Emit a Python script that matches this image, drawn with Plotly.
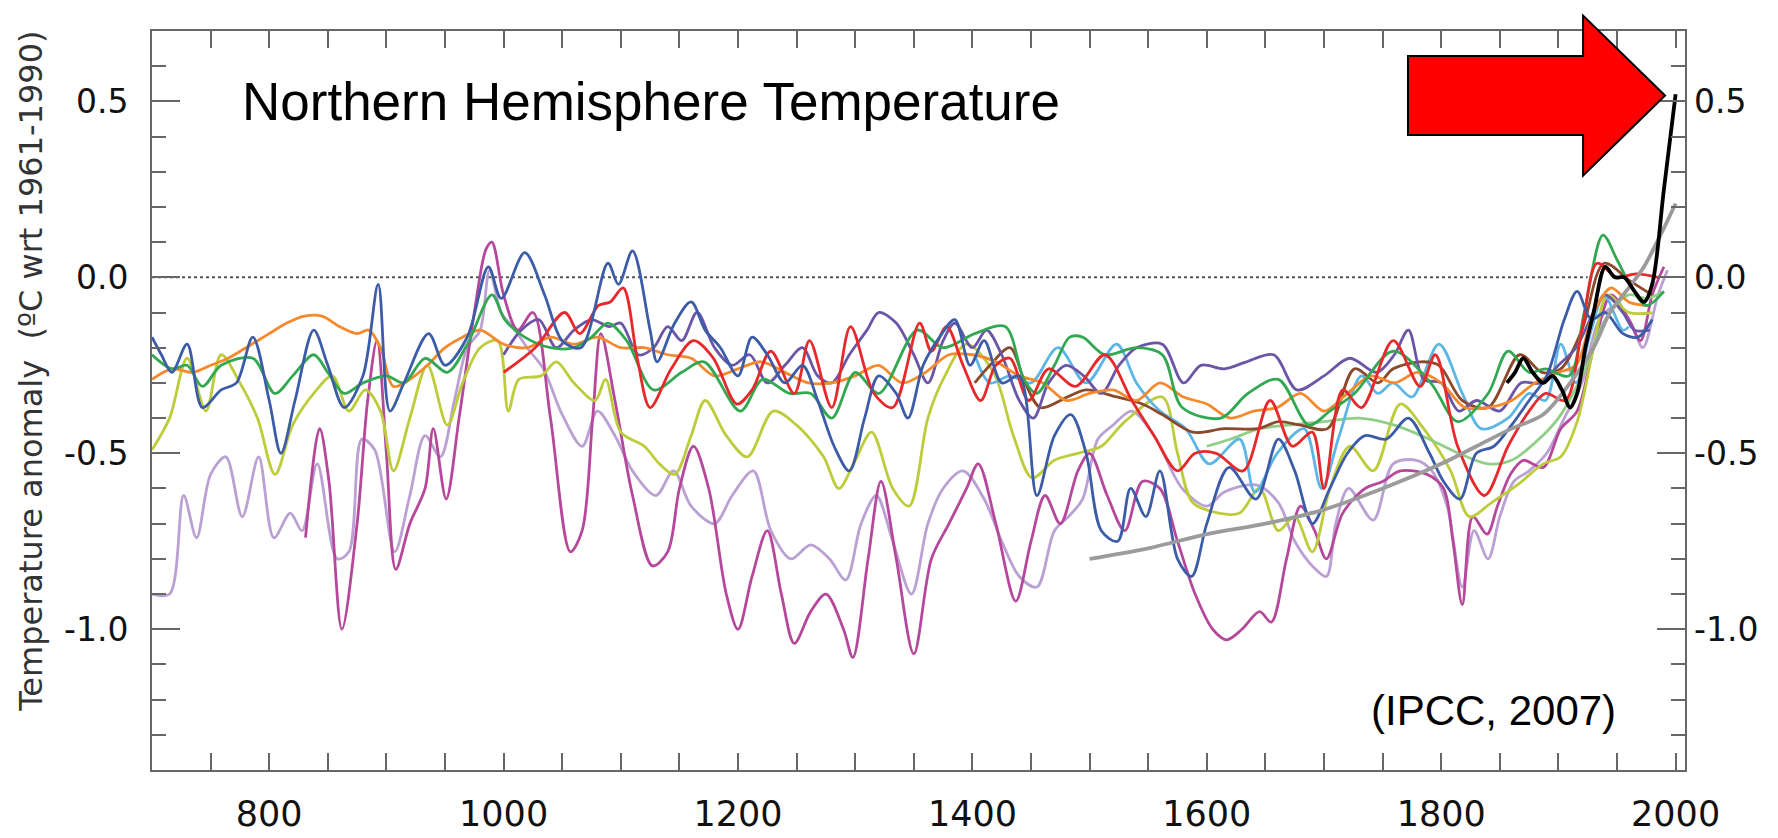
import plotly.graph_objects as go

# ---------------- data ----------------
tick_years = [800, 1000, 1200, 1400, 1600, 1800, 2000]
tick_year_labels = ["800", "1000", "1200", "1400", "1600", "1800", "2000"]
tick_temps = [-1.0, -0.5, 0.0, 0.5]
tick_temp_labels = ["-1.0", "-0.5", "0.0", "0.5"]

lilac_years = [700, 715, 727, 738, 750, 763, 777, 791, 804, 818, 828, 841, 858, 868, 879, 890, 907, 920, 933, 946, 958, 969, 980, 988, 998, 1010, 1020, 1034, 1050, 1067, 1080, 1095, 1110, 1130, 1145, 1160, 1180, 1195, 1213, 1228, 1245, 1262, 1278, 1292, 1305, 1318, 1332, 1348, 1362, 1375, 1392, 1410, 1425, 1440, 1455, 1470, 1482, 1494, 1507, 1520, 1536, 1555, 1579, 1600, 1615, 1642, 1661, 1675, 1690, 1702, 1710, 1721, 1742, 1759, 1779, 1792, 1805, 1818, 1828, 1840, 1850, 1862, 1875, 1890, 1905, 1920, 1935, 1950, 1962, 1972, 1985, 1993]
lilac_temps = [-0.9, -0.9, -0.62, -0.74, -0.56, -0.51, -0.68, -0.51, -0.74, -0.67, -0.72, -0.53, -0.8, -0.78, -0.46, -0.49, -0.78, -0.62, -0.45, -0.51, -0.35, -0.2, -0.15, 0.02, -0.1, -0.15, -0.2, -0.26, -0.39, -0.48, -0.38, -0.45, -0.55, -0.62, -0.55, -0.65, -0.7, -0.62, -0.55, -0.72, -0.8, -0.76, -0.8, -0.86, -0.7, -0.62, -0.75, -0.9, -0.7, -0.6, -0.55, -0.63, -0.75, -0.85, -0.88, -0.72, -0.68, -0.63, -0.46, -0.42, -0.38, -0.45, -0.6, -0.65, -0.61, -0.59, -0.64, -0.75, -0.82, -0.85, -0.7, -0.6, -0.69, -0.53, -0.52, -0.55, -0.65, -0.88, -0.72, -0.8, -0.68, -0.58, -0.55, -0.5, -0.4, -0.3, -0.12, -0.08, -0.13, -0.2, -0.05, 0.02]

magenta_years = [831, 843, 851, 862, 875, 884, 892, 900, 908, 920, 933, 940, 951, 962, 975, 985, 990, 1000, 1012, 1025, 1040, 1057, 1067, 1076, 1083, 1095, 1110, 1127, 1140, 1150, 1162, 1175, 1190, 1200, 1212, 1225, 1237, 1248, 1262, 1275, 1290, 1298, 1311, 1322, 1335, 1350, 1365, 1380, 1395, 1405, 1420, 1437, 1450, 1462, 1475, 1490, 1500, 1515, 1530, 1545, 1560, 1575, 1590, 1605, 1617, 1630, 1645, 1655, 1668, 1680, 1692, 1702, 1716, 1735, 1750, 1765, 1788, 1802, 1810, 1818, 1827, 1839, 1848, 1859, 1870, 1887, 1902, 1916, 1930, 1945, 1960, 1970, 1980, 1990]
magenta_temps = [-0.74, -0.43, -0.58, -1.0, -0.7, -0.35, -0.18, -0.5, -0.83, -0.7, -0.6, -0.43, -0.63, -0.4, -0.1, 0.08, 0.1, -0.05, -0.15, -0.1, -0.4, -0.78, -0.72, -0.4, -0.16, -0.35, -0.62, -0.82, -0.78, -0.6, -0.48, -0.6, -0.9, -1.0, -0.85, -0.72, -0.9, -1.04, -0.95, -0.9, -1.0, -1.08, -0.8, -0.58, -0.8, -1.07, -0.8, -0.7, -0.6, -0.53, -0.7, -0.92, -0.75, -0.62, -0.7, -0.55, -0.5, -0.62, -0.72, -0.58, -0.6, -0.75, -0.9, -1.0, -1.03, -1.0, -0.95, -0.98, -0.8, -0.65, -0.72, -0.8, -0.67, -0.6, -0.58, -0.55, -0.56, -0.6, -0.75, -0.93, -0.68, -0.73, -0.65, -0.56, -0.52, -0.54, -0.43, -0.38, -0.2, -0.05, -0.12, -0.18, -0.05, 0.03]

olive_years = [700, 715, 730, 746, 759, 775, 790, 805, 820, 838, 854, 868, 882, 895, 906, 920, 935, 952, 965, 980, 995, 1004, 1013, 1032, 1045, 1060, 1078, 1087, 1100, 1120, 1133, 1146, 1160, 1172, 1190, 1208, 1230, 1250, 1273, 1286, 1300, 1314, 1332, 1346, 1362, 1375, 1395, 1418, 1435, 1451, 1470, 1490, 1510, 1530, 1562, 1575, 1588, 1610, 1628, 1645, 1661, 1675, 1690, 1705, 1722, 1742, 1765, 1785, 1808, 1824, 1843, 1865, 1887, 1902, 1916, 1930, 1942, 1960, 1980]
olive_temps = [-0.49, -0.4, -0.23, -0.38, -0.22, -0.3, -0.4, -0.56, -0.42, -0.33, -0.28, -0.38, -0.32, -0.38, -0.55, -0.4, -0.25, -0.42, -0.3, -0.2, -0.18, -0.38, -0.29, -0.28, -0.24, -0.3, -0.35, -0.29, -0.44, -0.48, -0.53, -0.56, -0.45, -0.35, -0.45, -0.51, -0.38, -0.42, -0.51, -0.6, -0.52, -0.44, -0.6, -0.65, -0.4, -0.29, -0.19, -0.27, -0.45, -0.57, -0.52, -0.5, -0.48, -0.41, -0.34, -0.5, -0.64, -0.67, -0.67, -0.6, -0.72, -0.68, -0.78, -0.6, -0.48, -0.55, -0.36, -0.43, -0.55, -0.68, -0.64, -0.59, -0.53, -0.51, -0.41, -0.2, -0.05, -0.1, -0.1]

lightgreen_years = [1600, 1620, 1645, 1670, 1700, 1730, 1760, 1790, 1815, 1840, 1860, 1880, 1900, 1920, 1940, 1960, 1975, 1990]
lightgreen_temps = [-0.48, -0.46, -0.43, -0.42, -0.41, -0.4, -0.42, -0.46, -0.5, -0.53, -0.52, -0.47, -0.4, -0.28, -0.12, -0.05, -0.06, -0.04]

lightblue_years = [1402, 1415, 1432, 1450, 1473, 1497, 1523, 1540, 1560, 1582, 1602, 1628, 1641, 1660, 1683, 1698, 1713, 1732, 1746, 1759, 1775, 1798, 1818, 1834, 1857, 1875, 1889, 1902, 1915, 1928, 1939, 1955, 1960]
lightblue_temps = [-0.22, -0.3, -0.28, -0.3, -0.2, -0.3, -0.19, -0.3, -0.38, -0.43, -0.53, -0.46, -0.61, -0.5, -0.43, -0.6, -0.45, -0.28, -0.33, -0.3, -0.34, -0.19, -0.33, -0.43, -0.4, -0.33, -0.35, -0.19, -0.3, -0.15, -0.05, -0.15, -0.14]

brown_years = [1402, 1415, 1432, 1445, 1458, 1481, 1497, 1523, 1545, 1562, 1588, 1615, 1644, 1661, 1680, 1703, 1726, 1746, 1759, 1782, 1798, 1818, 1840, 1867, 1886, 1902, 1920, 1939, 1961, 1980]
brown_temps = [-0.3, -0.25, -0.2, -0.3, -0.37, -0.34, -0.32, -0.34, -0.36, -0.39, -0.44, -0.43, -0.43, -0.41, -0.42, -0.43, -0.26, -0.3, -0.26, -0.24, -0.25, -0.35, -0.37, -0.22, -0.27, -0.26, -0.15, 0.04, -0.01, -0.05]

purple_years = [1000, 1015, 1030, 1045, 1060, 1075, 1090, 1100, 1115, 1128, 1140, 1152, 1165, 1180, 1195, 1210, 1225, 1240, 1255, 1268, 1280, 1295, 1310, 1320, 1335, 1350, 1362, 1375, 1385, 1400, 1412, 1425, 1440, 1452, 1465, 1480, 1495, 1510, 1525, 1540, 1562, 1580, 1595, 1615, 1634, 1657, 1677, 1700, 1722, 1745, 1760, 1772, 1785, 1800, 1815, 1830, 1850, 1868, 1885, 1900, 1915, 1930, 1940, 1955, 1965, 1978]
purple_temps = [-0.22, -0.15, -0.12, -0.2, -0.15, -0.12, -0.14, -0.13, -0.22, -0.2, -0.14, -0.18, -0.1, -0.2, -0.25, -0.22, -0.3, -0.25, -0.2, -0.28, -0.3, -0.22, -0.15, -0.1, -0.13, -0.22, -0.3, -0.18, -0.13, -0.2, -0.15, -0.22, -0.35, -0.4, -0.3, -0.25, -0.28, -0.33, -0.25, -0.2, -0.19, -0.3, -0.25, -0.26, -0.24, -0.22, -0.32, -0.28, -0.23, -0.27, -0.22, -0.15, -0.29, -0.3, -0.38, -0.35, -0.38, -0.3, -0.3, -0.25, -0.2, -0.1, -0.05, -0.1, -0.15, -0.15]

orange_years = [700, 717, 735, 750, 765, 785, 800, 815, 830, 845, 860, 875, 885, 895, 906, 920, 935, 950, 965, 980, 1000, 1020, 1040, 1060, 1080, 1100, 1120, 1140, 1160, 1180, 1200, 1220, 1240, 1260, 1280, 1300, 1320, 1340, 1360, 1380, 1400, 1420, 1440, 1460, 1480, 1500, 1520, 1540, 1560, 1580, 1600, 1620, 1640, 1660, 1680, 1700, 1720, 1740, 1760, 1780, 1800, 1820, 1840, 1860, 1880, 1900, 1915, 1930, 1945, 1960, 1975]
orange_temps = [-0.29, -0.26, -0.27, -0.25, -0.23, -0.19, -0.16, -0.13, -0.11, -0.11, -0.14, -0.16, -0.15, -0.2, -0.31, -0.29, -0.25, -0.2, -0.17, -0.15, -0.19, -0.2, -0.17, -0.19, -0.17, -0.2, -0.2, -0.22, -0.23, -0.28, -0.26, -0.24, -0.27, -0.3, -0.3, -0.28, -0.25, -0.3, -0.27, -0.22, -0.22, -0.24, -0.28, -0.3, -0.35, -0.33, -0.32, -0.35, -0.3, -0.34, -0.36, -0.4, -0.38, -0.37, -0.33, -0.38, -0.33, -0.28, -0.3, -0.27, -0.3, -0.37, -0.37, -0.35, -0.3, -0.27, -0.25, -0.1, -0.03, -0.07, -0.08]

green_years = [700, 717, 730, 743, 759, 786, 805, 820, 838, 850, 864, 880, 900, 915, 933, 952, 969, 990, 1001, 1018, 1040, 1060, 1075, 1089, 1105, 1128, 1152, 1171, 1202, 1221, 1244, 1262, 1280, 1300, 1320, 1353, 1375, 1402, 1428, 1444, 1455, 1470, 1483, 1494, 1513, 1540, 1562, 1579, 1612, 1635, 1661, 1687, 1705, 1726, 1759, 1791, 1814, 1840, 1857, 1875, 1889, 1909, 1922, 1938, 1950, 1961, 1975, 1990]
green_temps = [-0.22, -0.26, -0.25, -0.31, -0.25, -0.23, -0.33, -0.28, -0.22, -0.27, -0.33, -0.3, -0.28, -0.3, -0.23, -0.27, -0.19, -0.05, -0.12, -0.17, -0.2, -0.2, -0.17, -0.13, -0.18, -0.32, -0.27, -0.24, -0.38, -0.29, -0.33, -0.33, -0.4, -0.27, -0.33, -0.15, -0.2, -0.16, -0.14, -0.29, -0.33, -0.25, -0.17, -0.17, -0.22, -0.2, -0.22, -0.37, -0.4, -0.33, -0.29, -0.42, -0.38, -0.33, -0.21, -0.3, -0.41, -0.33, -0.21, -0.27, -0.26, -0.28, -0.1, 0.12, 0.05, -0.02, -0.08, -0.04]

red_years = [1000, 1027, 1052, 1065, 1081, 1091, 1102, 1114, 1125, 1143, 1162, 1179, 1199, 1212, 1228, 1248, 1261, 1280, 1296, 1316, 1332, 1355, 1365, 1378, 1392, 1407, 1420, 1432, 1448, 1465, 1488, 1513, 1536, 1555, 1575, 1590, 1608, 1631, 1654, 1673, 1690, 1700, 1716, 1732, 1759, 1782, 1795, 1814, 1837, 1857, 1875, 1889, 1906, 1920, 1933, 1950, 1966, 1985]
red_temps = [-0.27, -0.2, -0.1, -0.16, -0.08, -0.07, -0.03, -0.23, -0.37, -0.26, -0.18, -0.23, -0.36, -0.32, -0.21, -0.33, -0.18, -0.37, -0.14, -0.33, -0.37, -0.13, -0.21, -0.14, -0.25, -0.35, -0.25, -0.23, -0.35, -0.26, -0.31, -0.22, -0.35, -0.45, -0.55, -0.5, -0.5, -0.55, -0.35, -0.48, -0.44, -0.6, -0.32, -0.37, -0.18, -0.31, -0.22, -0.48, -0.62, -0.48, -0.38, -0.33, -0.35, -0.15, 0.04, 0.0, 0.01, 0.0]

blue_years = [700, 708, 717, 730, 743, 759, 772, 786, 800, 810, 822, 838, 850, 864, 880, 893, 903, 915, 936, 950, 969, 987, 998, 1018, 1035, 1050, 1066, 1089, 1098, 1110, 1125, 1131, 1146, 1160, 1172, 1185, 1200, 1212, 1225, 1240, 1255, 1268, 1282, 1295, 1308, 1320, 1335, 1345, 1358, 1372, 1385, 1398, 1410, 1425, 1440, 1455, 1470, 1484, 1497, 1510, 1524, 1535, 1548, 1560, 1575, 1587, 1600, 1619, 1642, 1661, 1675, 1690, 1705, 1720, 1735, 1753, 1772, 1790, 1802, 1816, 1830, 1845, 1860, 1875, 1890, 1905, 1916, 1928, 1940, 1955, 1968, 1980]
blue_temps = [-0.17, -0.22, -0.27, -0.19, -0.37, -0.32, -0.3, -0.17, -0.35, -0.5, -0.35, -0.15, -0.25, -0.37, -0.28, -0.02, -0.38, -0.3, -0.16, -0.25, -0.17, 0.03, -0.06, 0.07, -0.05, -0.18, -0.2, 0.04, -0.02, 0.075, -0.15, -0.24, -0.13, -0.07, -0.15, -0.2, -0.28, -0.17, -0.22, -0.3, -0.25, -0.35, -0.48, -0.55, -0.4, -0.28, -0.33, -0.4, -0.25, -0.17, -0.12, -0.25, -0.18, -0.3, -0.28, -0.62, -0.45, -0.39, -0.5, -0.72, -0.75, -0.6, -0.68, -0.55, -0.8, -0.85, -0.7, -0.54, -0.63, -0.46, -0.55, -0.7, -0.6, -0.5, -0.45, -0.46, -0.4, -0.5, -0.58, -0.63, -0.5, -0.48, -0.42, -0.35, -0.28, -0.12, -0.04, -0.12, -0.1, -0.16, -0.17, -0.12]

borehole_years = [1500, 1550, 1600, 1650, 1700, 1750, 1800, 1830, 1860, 1887, 1910, 1930, 1944, 1960, 1973, 1990, 2000]
borehole_temps = [-0.8, -0.77, -0.73, -0.7, -0.66, -0.6, -0.53, -0.48, -0.43, -0.39, -0.3, -0.2, -0.1, -0.03, 0.03, 0.14, 0.21]

instrumental_years = [1856, 1863, 1870, 1878, 1887, 1895, 1903, 1910, 1916, 1923, 1930, 1940, 1948, 1956, 1965, 1973, 1980, 1990, 2000]
instrumental_temps = [-0.3, -0.27, -0.23, -0.27, -0.3, -0.28, -0.32, -0.37, -0.33, -0.2, -0.1, 0.03, 0.0, 0.0, -0.04, -0.07, -0.02, 0.25, 0.52]

# ---------------- figure ----------------
series = [
    (lilac_years, lilac_temps, "#bba0d3", 2.8),
    (magenta_years, magenta_temps, "#b6489c", 2.8),
    (olive_years, olive_temps, "#bdcc3a", 2.8),
    (lightgreen_years, lightgreen_temps, "#92cf86", 2.8),
    (lightblue_years, lightblue_temps, "#5cb6e6", 2.8),
    (brown_years, brown_temps, "#8c4a2c", 2.8),
    (purple_years, purple_temps, "#6a55a6", 2.8),
    (orange_years, orange_temps, "#f5892e", 2.8),
    (green_years, green_temps, "#33a852", 2.8),
    (red_years, red_temps, "#e8292c", 2.8),
    (blue_years, blue_temps, "#3c5ca8", 2.8),
    (borehole_years, borehole_temps, "#9b9b9b", 3.8),
    (instrumental_years, instrumental_temps, "#000000", 3.8),
]

fig = go.Figure()
for xs, ys, col, w in series:
    fig.add_trace(go.Scatter(
        x=xs, y=ys, mode="lines",
        line=dict(color=col, width=w, shape="spline", smoothing=0.9),
        showlegend=False, hoverinfo="skip",
    ))
# carrier for the right-hand axis labels
fig.add_trace(go.Scatter(x=[], y=[], yaxis="y2", showlegend=False, hoverinfo="skip"))

axis_col = "#666666"
ytick_font = dict(family="DejaVu Sans", size=33, color="#111111")

fig.update_layout(
    width=1778, height=838, autosize=False,
    margin=dict(l=144, r=101, t=23, b=48),
    paper_bgcolor="white", plot_bgcolor="white",
    xaxis=dict(
        range=[700, 2008], tickvals=tick_years, ticktext=tick_year_labels,
        ticks="inside", ticklen=17, tickwidth=2, tickcolor=axis_col,
        showline=True, linecolor=axis_col, linewidth=2, mirror="allticks",
        showgrid=False, zeroline=False,
        tickfont=dict(family="DejaVu Sans", size=35, color="#111111"),
        ticklabelstandoff=12,
        minor=dict(dtick=50, tick0=700, ticks="inside", ticklen=9, tickwidth=2, tickcolor=axis_col, showgrid=False),
    ),
    yaxis=dict(
        range=[-1.4, 0.7], tickvals=tick_temps, ticktext=tick_temp_labels,
        ticks="inside", ticklen=28, tickwidth=2, tickcolor=axis_col,
        showline=True, linecolor=axis_col, linewidth=2, mirror=True,
        showgrid=False, zeroline=False, tickfont=ytick_font,
        ticklabelstandoff=15,
        minor=dict(dtick=0.1, tick0=0, ticks="inside", ticklen=14, tickwidth=2, tickcolor=axis_col, showgrid=False),
    ),
    yaxis2=dict(
        overlaying="y", side="right", anchor="x",
        range=[-1.4, 0.7], tickvals=tick_temps, ticktext=tick_temp_labels,
        ticks="inside", ticklen=28, tickwidth=2, tickcolor=axis_col,
        showline=False, showgrid=False, zeroline=False, tickfont=ytick_font,
        ticklabelstandoff=8,
        minor=dict(dtick=0.1, tick0=0, ticks="inside", ticklen=14, tickwidth=2, tickcolor=axis_col, showgrid=False),
    ),
    shapes=[
        dict(type="line", xref="x", yref="y", x0=700, x1=1925, y0=0, y1=0,
             line=dict(color="#555555", width=2, dash="dot"), layer="below"),
        dict(type="path", xref="paper", yref="paper",
             path="M 0.8193 0.9661 L 0.9335 0.9661 L 0.9335 1.0209 L 0.9870 0.9126 "
                  "L 0.9335 0.8044 L 0.9335 0.8592 L 0.8193 0.8592 Z",
             fillcolor="#ff0000", line=dict(color="#000000", width=2), layer="above"),
    ],
    annotations=[
        dict(text="Northern Hemisphere Temperature", xref="paper", yref="paper",
             x=0.0574, y=0.905, xanchor="left", yanchor="middle", showarrow=False,
             font=dict(family="Liberation Sans", size=53, color="#000000")),
        dict(text="(IPCC, 2007)", xref="paper", yref="paper",
             x=0.9563, y=0.08, xanchor="right", yanchor="middle", showarrow=False,
             font=dict(family="Liberation Sans", size=42, color="#000000")),
        dict(text="Temperature anomaly\u00a0\u00a0(\u00baC wrt 1961-1990)", xref="paper", yref="paper",
             x=-0.079, y=0.54, xanchor="center", yanchor="middle", textangle=-90, showarrow=False,
             font=dict(family="DejaVu Sans", size=32, color="#333333")),
    ],
)

fig.write_html("out.html")
